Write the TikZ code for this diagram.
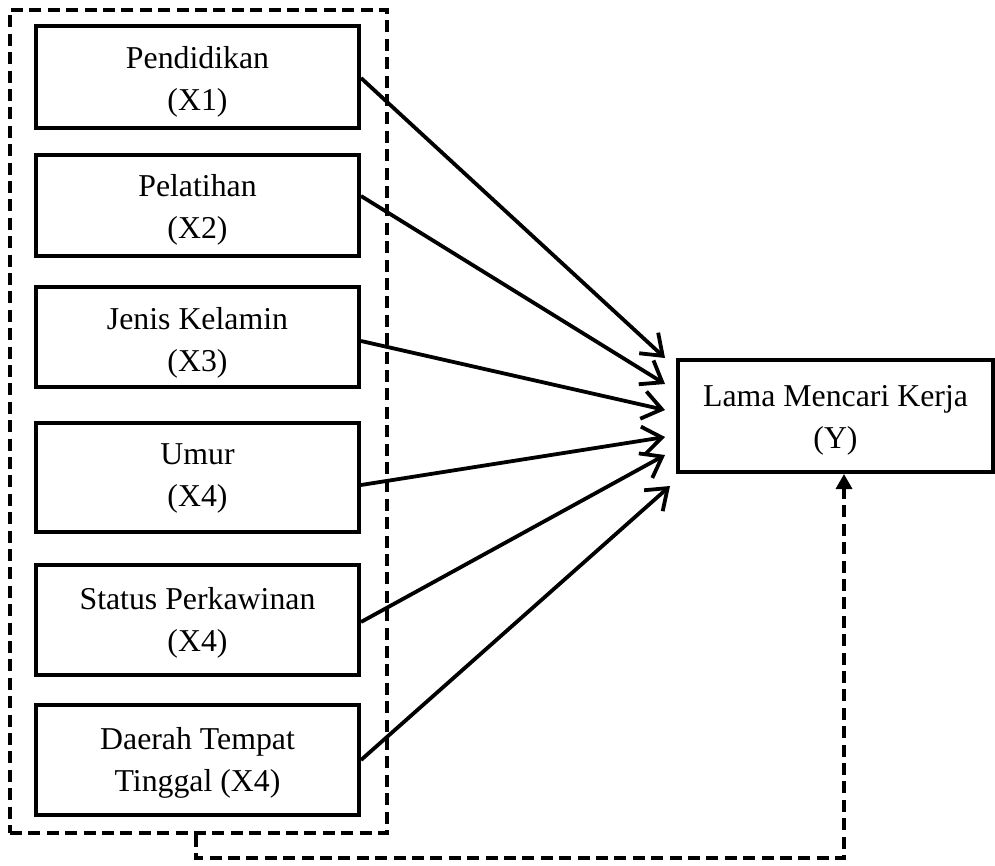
\documentclass[tikz,border=0pt]{standalone}
\usepackage{fontspec}
\setmainfont{Liberation Serif}
\usetikzlibrary{arrows.meta,calc}
\begin{document}
\begin{tikzpicture}[x=0.5pt,y=-0.5pt,
  varbox/.style={draw, line width=2pt, minimum width=161.5pt, align=center,
    font=\fontsize{15.9pt}{21pt}\selectfont, inner sep=0pt, text height=#1, text depth=0pt},
  varbox/.default=33pt,
  arr/.style={line width=1.9pt, -{Straight Barb[length=9.5pt,width=14pt,line width=1.9pt]}},
  dashline/.style={line width=1.7pt, dash pattern=on 6pt off 3.2pt}]
\useasboundingbox (0,0) rectangle (995,866);
\node[draw, dashline, minimum width=188.5pt, minimum height=411.5pt, inner sep=0pt] (grp) at (198.5,421.5) {};
\node[varbox=34pt, minimum height=51pt] (b1) at (197.5,77) {Pendidikan\\(X1)};
\node[varbox=33.5pt, minimum height=50.5pt] (b2) at (197.5,205.5) {Pelatihan\\(X2)};
\node[varbox=34pt, minimum height=50pt] (b3) at (197.5,337) {Jenis Kelamin\\(X3)};
\node[varbox=29pt, minimum height=54.5pt] (b4) at (197.5,477.5) {Umur\\(X4)};
\node[varbox=31pt, minimum height=55pt] (b5) at (197.5,620) {Status Perkawinan\\(X4)};
\node[varbox=31pt, minimum height=55pt] (b6) at (197.5,760) {Daerah Tempat\\Tinggal (X4)};
\node[varbox=32pt, minimum width=157.5pt, minimum height=56pt] (y) at (835.5,416) {Lama Mencari Kerja\\(Y)};
\coordinate (t1) at (665,358);
\coordinate (t2) at (665,384);
\coordinate (t3) at (665,410);
\coordinate (t4) at (665,437);
\coordinate (t5) at (665,455);
\coordinate (t6) at (670,486);
\draw[arr] ([yshift=-0.5pt]b1.east) -- (t1);
\draw[arr] ([yshift=4.75pt]b2.east) -- (t2);
\draw[arr] ([yshift=-2pt]b3.east) -- (t3);
\draw[arr] ([yshift=-3.75pt]b4.east) -- (t4);
\draw[arr] ([yshift=-1pt]b5.east) -- (t5);
\draw[arr] (b6.east) -- (t6);
\coordinate (c1) at (196,858);
\coordinate (c2) at (844,858);
\draw[dashline, -{Triangle[length=7.5pt,width=8pt]}] (grp.south -| c1) -- (c1) -- (c2) -- (c2 |- y.south);
\end{tikzpicture}
\end{document}
